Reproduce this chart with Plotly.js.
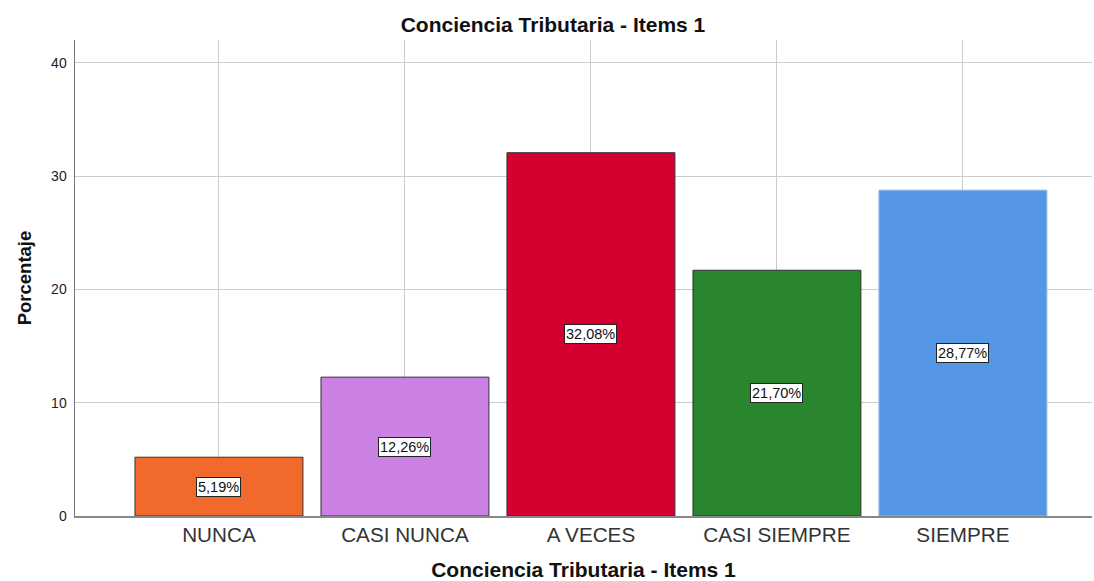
<!DOCTYPE html>
<html>
<head>
<meta charset="utf-8">
<script src="https://cdn.plot.ly/plotly-3.0.1.min.js"></script>
<style>html,body{margin:0;padding:0;background:#fff;}#chart{width:1094px;height:581px;}</style>
</head>
<body>
<div id="chart"></div>
<script>
const categories = ["NUNCA", "CASI NUNCA", "A VECES", "CASI SIEMPRE", "SIEMPRE"];
const values = [5.19, 12.26, 32.08, 21.70, 28.77];
const barColors = ["#F26A2B", "#CB80E3", "#D60030", "#2A862E", "#5596E5"];
const borderColors = ["#333333", "#333333", "#333333", "#333333", "#8FB8EE"];
const yTicks = [0, 10, 20, 30, 40];

const fmt = v => v.toFixed(2).replace(".", ",") + "%";
const FONT = "Liberation Sans, Arial, sans-serif";

const trace = {
  type: "bar",
  x: categories,
  y: values,
  width: 0.903,
  marker: { color: barColors, line: { color: borderColors, width: 1 } },
  hoverinfo: "none"
};

const annotations = categories.map((c, i) => ({
  x: c, y: values[i] / 2, xref: "x", yref: "y",
  text: fmt(values[i]), showarrow: false,
  bgcolor: "#ffffff", bordercolor: "#222222", borderwidth: 1, borderpad: 1,
  font: { family: FONT, size: 14.5, color: "#111" }
}));

const layout = {
  width: 1094, height: 581,
  margin: { l: 75, r: 2, t: 40, b: 65 },
  paper_bgcolor: "#fff", plot_bgcolor: "#fff",
  font: { family: FONT, color: "#222" },
  title: { text: "<b>Conciencia Tributaria - Items 1</b>", xref: "container", x: 553 / 1094, xanchor: "center",
           yref: "container", y: 0.958, yanchor: "middle", font: { size: 21, color: "#111" } },
  xaxis: {
    type: "category", range: [-0.774, 4.694],
    showgrid: true, gridcolor: "#cccccc", gridwidth: 1,
    showline: true, linecolor: "#888888", linewidth: 1.5,
    ticks: "", tickfont: { size: 20.7, color: "#333" },
    title: { text: "<b>Conciencia Tributaria - Items 1</b>", font: { size: 21, color: "#111" }, standoff: 20 }
  },
  yaxis: {
    range: [0, 42.03], tickvals: yTicks, ticktext: yTicks.map(String),
    showgrid: true, gridcolor: "#cccccc", gridwidth: 1,
    showline: true, linecolor: "#777777", linewidth: 1.5,
    zeroline: false, ticks: "", tickfont: { size: 14, color: "#222" },
    ticklabelstandoff: 4,
    title: { text: "<b>Porcentaje</b>", font: { size: 18.5, color: "#111" }, standoff: 14 }
  },
  annotations: annotations,
  showlegend: false
};

Plotly.newPlot("chart", [trace], layout, { staticPlot: true, displayModeBar: false });
</script>
</body>
</html>
